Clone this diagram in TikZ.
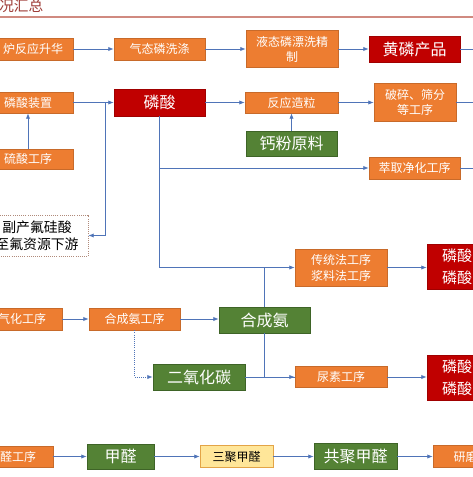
\documentclass[tikz,border=0pt]{standalone}
\usepackage{fontspec}
\setmainfont{Noto Sans CJK SC}
\usetikzlibrary{arrows.meta}
\definecolor{org}{HTML}{ED7D31}
\definecolor{orgd}{HTML}{C86A2A}
\definecolor{rd}{HTML}{C00000}
\definecolor{rdd}{HTML}{A00000}
\definecolor{grn}{HTML}{548235}
\definecolor{grnd}{HTML}{3E6427}
\definecolor{yel}{HTML}{FFE699}
\definecolor{yeld}{HTML}{E3A447}
\definecolor{ln}{HTML}{4F74B8}
\definecolor{ttl}{HTML}{9E3B36}
\definecolor{rule}{HTML}{D08A80}
\definecolor{dsh}{HTML}{B08A7A}
\begin{document}
\begin{tikzpicture}[x=0.75pt,y=-0.75pt,
  bx/.style 2 args={minimum width=#1*0.75pt, minimum height=#2*0.75pt, inner sep=0pt, align=center},
  ob/.style={draw=orgd, fill=org, text=white, line width=0.5pt, font=\fontsize{9}{11.3}\selectfont},
  rb/.style={draw=rdd, fill=rd, text=white, line width=0.5pt, font=\fontsize{12}{14}\selectfont},
  sideb/.style={draw=rdd, fill=rd, text=white, line width=0.5pt, font=\fontsize{11.3}{16.5}\selectfont},
  gb/.style={draw=grnd, fill=grn, text=white, line width=0.5pt, font=\fontsize{12}{14}\selectfont},
  yb/.style={draw=yeld, fill=yel, text=black, line width=0.5pt, font=\fontsize{9}{11}\selectfont},
  db/.style={draw=dsh, densely dotted, line width=0.6pt, text=black, font=\fontsize{10.4}{13}\selectfont},
  ar/.style={draw=ln, line width=0.6pt, -{Latex[length=4pt,width=3.2pt]}},
  cn/.style={draw=ln, line width=0.6pt},
  dar/.style={draw=ln, line width=0.6pt, densely dotted, -{Latex[length=4pt,width=3.2pt]}},
]
\useasboundingbox (0,0) rectangle (473,477);
\fill[white] (0,0) rectangle (473,477);
\clip (0,0) rectangle (473,477);

% title
\node[anchor=west, text=ttl, font=\fontsize{11}{13}\selectfont, inner sep=0pt] (title) at (-1,5.5) {况汇总};
\coordinate (rl) at (0,17);
\coordinate (rr) at (473,17);
\draw[rule, line width=0.8pt] (rl) -- (rr);

% row 1
\node[ob, bx={80}{22}] (A1) at (33,49) {炉反应升华};
\node[ob, bx={91}{22}] (B1) at (159.5,49) {气态磷洗涤};
\node[ob, bx={92}{37}] (C1) at (292,49) {液态磷漂洗精\\制};
\node[rb, bx={91}{26}] (D1) at (414.5,49) {黄磷产品};
\coordinate (R1) at (480,49);

% row 2
\node[ob, bx={90}{21}] (A2) at (28,102.5) {磷酸装置};
\node[rb, bx={91}{27}] (B2) at (159.5,102.5) {磷酸};
\node[ob, bx={93}{21}] (C2) at (291.5,102.5) {反应造粒};
\node[ob, bx={82}{38}] (D2) at (415,102.5) {破碎、筛分\\等工序};
\coordinate (R2) at (480,102.5);
\node[gb, bx={91}{25}] (E2) at (291.5,143.5) {钙粉原料};
\node[ob, bx={90}{20}] (F2) at (28,159) {硫酸工序};
\node[ob, bx={91}{22}] (G2) at (414.5,168) {萃取净化工序};
\coordinate (R3) at (480,168);
\node[db, bx={102}{41}] (FS) at (37,235.5) {副产氟硅酸\\至氟资源下游};
\coordinate (J1) at (105,102.5);

% row 3
\node[ob, bx={92}{37}, font=\fontsize{9}{12}\selectfont] (H3) at (341,267.5) {传统法工序\\浆料法工序};
\node[sideb, bx={90}{45}, text width=45pt, align=left] (I3) at (472,266.5) {磷酸\\磷酸};

% row 4
\node[ob, bx={80}{22}] (J4) at (22,319) {气化工序};
\node[ob, bx={91}{22}] (K4) at (134.5,319) {合成氨工序};
\node[gb, bx={91}{26}] (L4) at (264.5,320) {合成氨};
\node[gb, bx={92}{26}] (M4) at (199,377) {二氧化碳};
\node[ob, bx={92}{21}] (N4) at (341,377) {尿素工序};
\node[sideb, bx={90}{45}, text width=45pt, align=left] (O4) at (472,377.5) {磷酸\\磷酸};

% row 5
\node[ob, bx={70}{21}] (P5) at (18,456.5) {醛工序};
\node[gb, bx={67}{25}] (Q5) at (120.5,456.5) {甲醛};
\node[yb, bx={73}{22}] (R5) at (236.5,456.5) {三聚甲醛};
\node[gb, bx={83}{26}] (S5) at (355.5,456.5) {共聚甲醛};
\node[ob, bx={91}{22}, text width=37.5pt, align=left] (T5) at (478.5,456.5) {研磨};

% connectors row 1
\draw[ar] (A1) -- (B1);
\draw[ar] (B1) -- (C1);
\draw[ar] (C1) -- (D1);
\draw[cn] (D1) -- (R1);

% row 2
\draw[ar] (A2) -- (B2);
\draw[ar] (B2) -- (C2);
\draw[ar] (C2) -- (D2);
\draw[cn] (D2) -- (R2);
\draw[ar] (E2) -- (C2);
\draw[ar] (F2) -- (A2);
\draw[ar] (J1) |- (FS.east);
\draw[ar] (B2.south) |- (G2.west);
\draw[cn] (G2) -- (R3);
\draw[ar] (B2.south) |- (H3.west);

% row 3
\draw[ar] (H3) -- (I3.west |- H3);
\draw[cn] (L4.north) -- (L4.north |- H3.west);

% row 4
\draw[ar] (J4) -- (K4);
\draw[ar] (K4) -- (L4.west |- K4);
\draw[dar] (K4.south) |- (M4.west);
\draw[ar] (M4) -- (N4);
\draw[cn] (L4.south) |- (N4.west);
\draw[ar] (N4) -- (O4.west |- N4);

% row 5
\draw[ar] (P5) -- (Q5);
\draw[ar] (Q5) -- (R5);
\draw[ar] (R5) -- (S5);
\draw[ar] (S5) -- (T5);
\end{tikzpicture}
\end{document}
